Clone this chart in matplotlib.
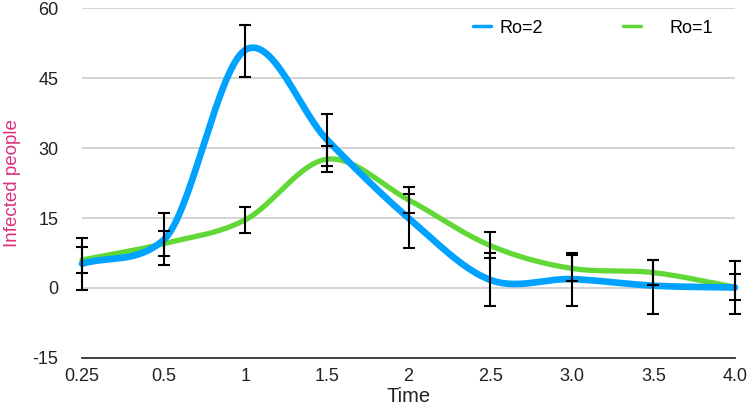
import matplotlib.pyplot as plt
import numpy as np

plt.rcParams['font.family'] = ['Liberation Sans', 'DejaVu Sans']
plt.rcParams['axes.unicode_minus'] = False

times = ['0.25', '0.5', '1', '1.5', '2', '2.5', '3.0', '3.5', '4.0']

ro2 = [5.2, 10.3, 51.0, 31.8, 15.0, 1.75, 1.9, 0.5, 0.1]
ro2_err = [5.6, 5.6, 5.6, 5.6, 5.75, 5.65, 5.65, 5.75, 5.65]
ro2_bar = [5.15, 10.5, 50.75, 31.75, 14.35, 1.75, 1.75, 0.25, 0.15]

ro1 = [6.0, 9.5, 14.6, 27.6, 18.9, 9.1, 4.2, 3.3, 0.2]
ro1_err = [2.7, 2.65, 2.8, 2.75, 2.75, 2.75, 2.8, 2.7, 2.75]
ro1_bar = [6.0, 9.55, 14.6, 27.65, 18.85, 9.25, 4.2, 3.3, 0.15]

blue = '#00A2FF'
green = '#61D836'


def smooth(y, n=60):
    # hermite curve through the points (catmull-rom tangents, clipped so
    # that rising / falling stretches don't wobble)
    y = np.asarray(y, dtype=float)
    s = np.diff(y)
    m = np.zeros_like(y)
    m[1:-1] = (y[2:] - y[:-2]) / 2
    m[0] = s[0]
    m[-1] = s[-1]
    for i in range(1, len(y) - 1):
        if s[i-1] * s[i] > 0:
            lim = 3 * min(abs(s[i-1]), abs(s[i]))
            m[i] = np.sign(m[i]) * min(abs(m[i]), lim)
    xs, ys = [], []
    for i in range(len(y) - 1):
        t = np.linspace(0, 1, n, endpoint=False)
        h00 = 2*t**3 - 3*t**2 + 1
        h10 = t**3 - 2*t**2 + t
        h01 = -2*t**3 + 3*t**2
        h11 = t**3 - t**2
        xs.append(i + t)
        ys.append(h00*y[i] + h10*m[i] + h01*y[i+1] + h11*m[i+1])
    xs.append([len(y) - 1])
    ys.append([y[-1]])
    return np.concatenate(xs), np.concatenate(ys)


fig = plt.figure(figsize=(7.49, 4.09), dpi=100)
ax = fig.add_axes([82/749, 51/409, 653/749, 350/409])

x = np.arange(len(times))

xs, ys = smooth(ro1)
l1, = ax.plot(xs, ys, color=green, lw=3.8, clip_on=False, zorder=3,
              solid_capstyle='round')
xs, ys = smooth(ro2)
l2, = ax.plot(xs, ys, color=blue, lw=4.8, clip_on=False, zorder=4,
              solid_capstyle='round')

ax.errorbar(x, ro2_bar, yerr=ro2_err, fmt='none', ecolor='black',
            elinewidth=1.5, capsize=4.5, capthick=1.5, zorder=5, clip_on=False)
ax.errorbar(x, ro1_bar, yerr=ro1_err, fmt='none', ecolor='black',
            elinewidth=1.5, capsize=4.5, capthick=1.5, zorder=5, clip_on=False)

ax.set_xlim(0, len(times) - 1)
ax.set_ylim(-15, 60)
ax.set_xticks(x)
ax.set_xticklabels(times)
ax.set_yticks([-15, 0, 15, 30, 45, 60])
ax.tick_params(length=0, labelsize=13, colors='#222222')
ax.tick_params(axis='y', pad=17)
ax.tick_params(axis='x', pad=7)

for s in ['left', 'right', 'top']:
    ax.spines[s].set_visible(False)
ax.spines['bottom'].set_color('#333333')
ax.spines['bottom'].set_linewidth(1.3)
ax.yaxis.grid(True, color='#c8c8c8', lw=1.1)
ax.set_axisbelow(True)

ax.set_xlabel('Time', fontsize=14.5, color='#222222', labelpad=2)
ax.set_ylabel('Infected people', fontsize=13.5, color='#D9327F')
ax.yaxis.set_label_coords((21 - 82) / 653, 0.5)

leg2 = ax.legend([l2], ['Ro=2'], frameon=False, loc='center left',
                 bbox_to_anchor=((473 - 82) / 653, 330 / 350), borderpad=0,
                 borderaxespad=0, handlelength=1.0, handletextpad=0.45,
                 fontsize=13)
ax.add_artist(leg2)
leg1 = ax.legend([l1], ['Ro=1'], frameon=False, loc='center left',
                 bbox_to_anchor=((623 - 82) / 653, 330 / 350), borderpad=0,
                 borderaxespad=0, handlelength=1.0, handletextpad=1.55,
                 fontsize=13)
for lg in (leg1, leg2):
    for line in lg.get_lines():
        line.set_linewidth(2.5)

fig.savefig('out.png', dpi=100)
